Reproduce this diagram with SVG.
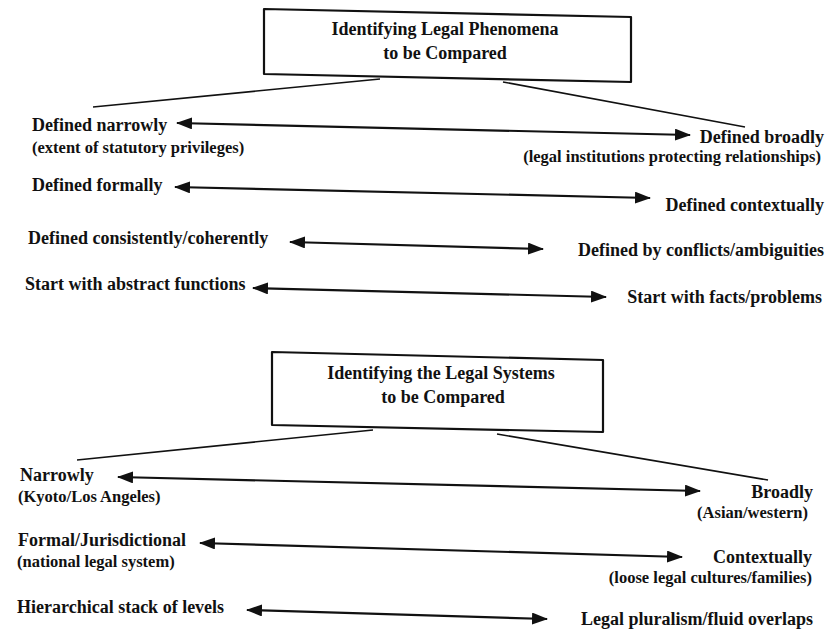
<svg xmlns="http://www.w3.org/2000/svg" width="835" height="634" viewBox="0 0 835 634">
  <defs>
    <marker id="ah" viewBox="0 0 16 12" refX="15" refY="6" markerWidth="16" markerHeight="12" markerUnits="userSpaceOnUse" orient="auto-start-reverse">
      <path d="M0,0 L16,6 L0,12 z" fill="#111"/>
    </marker>
    <style>
      .t { font-family: "Liberation Serif", "Times New Roman", serif; font-weight: bold; font-size: 18px; fill: #111; }
      .s { font-size: 16.5px; }
      .e { text-anchor: end; }
      .m { text-anchor: middle; }
      .box { fill: #fff; stroke: #111; stroke-width: 2.2; stroke-linejoin: round; }
      .br { fill: none; stroke: #111; stroke-width: 1.6; }
      .ar { fill: none; stroke: #111; stroke-width: 2.2; marker-start: url(#ah); marker-end: url(#ah); }
    </style>
  </defs>
  <rect width="835" height="634" fill="#fff"/>

  <g id="connectors">
    <line class="br" x1="380" y1="79" x2="93" y2="107"/>
    <line class="br" x1="503" y1="82" x2="745" y2="127"/>
    <line class="ar" x1="177" y1="123" x2="690" y2="135"/>
    <line class="ar" x1="175" y1="187" x2="650" y2="198"/>
    <line class="ar" x1="290" y1="242" x2="543" y2="249"/>
    <line class="ar" x1="253" y1="288" x2="606" y2="297"/>
    <line class="br" x1="373" y1="430" x2="77" y2="460"/>
    <line class="br" x1="497" y1="434" x2="768" y2="480"/>
    <line class="ar" x1="118" y1="477" x2="700" y2="491"/>
    <line class="ar" x1="200" y1="543" x2="682" y2="557"/>
    <line class="ar" x1="247" y1="610" x2="547" y2="619"/>
  </g>

  <g id="phenomena">
    <polygon class="box" points="264,9 631,17 631,82 264,74"/>
    <text class="t m" x="445" y="35">Identifying Legal Phenomena</text>
    <text class="t m" x="445" y="59">to be Compared</text>
  </g>

  <g id="narrow">
    <text class="t" x="32" y="131">Defined narrowly</text>
    <text class="t s" x="32" y="153">(extent of statutory privileges)</text>
  </g>
  <g id="broad">
    <text class="t e" x="824" y="143">Defined broadly</text>
    <text class="t s e" x="821" y="162">(legal institutions protecting relationships)</text>
  </g>
  <g id="formal">
    <text class="t" x="32" y="191">Defined formally</text>
  </g>
  <g id="contextual">
    <text class="t e" x="824" y="211">Defined contextually</text>
  </g>
  <g id="consistent">
    <text class="t" x="28" y="244">Defined consistently/coherently</text>
  </g>
  <g id="conflicts">
    <text class="t e" x="824" y="256">Defined by conflicts/ambiguities</text>
  </g>
  <g id="abstract">
    <text class="t" x="25" y="290">Start with abstract functions</text>
  </g>
  <g id="facts">
    <text class="t e" x="822" y="303">Start with facts/problems</text>
  </g>

  <g id="systems">
    <polygon class="box" points="272,352 603,360 603,432 272,425"/>
    <text class="t m" x="441" y="379">Identifying the Legal Systems</text>
    <text class="t m" x="443" y="403">to be Compared</text>
  </g>

  <g id="narrowly">
    <text class="t" x="20" y="481">Narrowly</text>
    <text class="t s" x="18" y="502">(Kyoto/Los Angeles)</text>
  </g>
  <g id="broadly">
    <text class="t e" x="813" y="498">Broadly</text>
    <text class="t s e" x="808" y="518">(Asian/western)</text>
  </g>
  <g id="jurisdictional">
    <text class="t" x="18" y="546">Formal/Jurisdictional</text>
    <text class="t s" x="17" y="567">(national legal system)</text>
  </g>
  <g id="contextually">
    <text class="t e" x="812" y="563">Contextually</text>
    <text class="t s e" x="812" y="583">(loose legal cultures/families)</text>
  </g>
  <g id="hierarchical">
    <text class="t" x="17" y="613">Hierarchical stack of levels</text>
  </g>
  <g id="pluralism">
    <text class="t e" x="813" y="625">Legal pluralism/fluid overlaps</text>
  </g>
</svg>
